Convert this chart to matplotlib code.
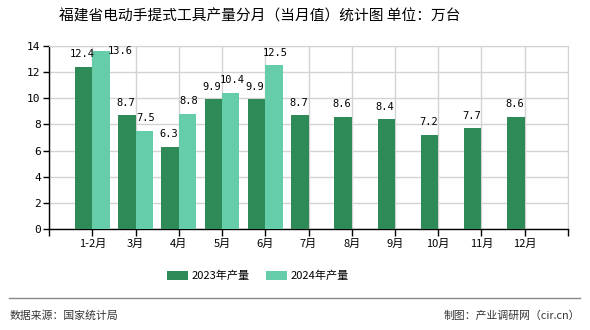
import matplotlib.pyplot as plt
import numpy as np

plt.rcParams['font.family'] = ['Noto Sans CJK SC', 'DejaVu Sans']

months = ['1-2月', '3月', '4月', '5月', '6月', '7月', '8月', '9月', '10月', '11月', '12月']
prod_2023 = [12.4, 8.7, 6.3, 9.9, 9.9, 8.7, 8.6, 8.4, 7.2, 7.7, 8.6]
prod_2024 = [13.6, 7.5, 8.8, 10.4, 12.5]
labels_2023 = ['12.4', '8.7', '6.3', '9.9', '9.9', '8.7', '8.6', '8.4', '7.2', '7.7', '8.6']
labels_2024 = ['13.6', '7.5', '8.8', '10.4', '12.5']

c23 = '#2e8b57'
c24 = '#66cdaa'
grid_c = '#d3d3d3'
num_font = ['DejaVu Sans Mono']

fig = plt.figure(figsize=(5.9, 3.3), dpi=100)
ax = fig.add_axes([0.0831, 0.305, 0.8796, 0.5565])

x = np.arange(1, len(months) + 1)
w = 0.4
b23 = ax.bar(x[:len(prod_2023)] - w / 2, prod_2023, w, color=c23, label='2023年产量', zorder=3)
b24 = ax.bar(x[:len(prod_2024)] + w / 2, prod_2024, w, color=c24, label='2024年产量', zorder=3)

ymax = 14
for rect, lab in zip(b23, labels_2023):
    ax.annotate(lab, (rect.get_x() + rect.get_width() / 2, rect.get_height()),
                xytext=(-1, 9), textcoords='offset points', ha='center', va='center',
                fontsize=7.5, family=num_font, zorder=4)
for rect, lab in zip(b24, labels_2024):
    h = rect.get_height()
    if h + 0.9 > ymax:
        # no room above, put it beside the bar
        ax.annotate(lab, (rect.get_x() + rect.get_width(), h),
                    xytext=(-1, 0), textcoords='offset points', ha='left', va='center',
                    fontsize=7.5, family=num_font, zorder=4)
    else:
        ax.annotate(lab, (rect.get_x() + rect.get_width() / 2, h),
                    xytext=(1, 9), textcoords='offset points', ha='center', va='center',
                    fontsize=7.5, family=num_font, zorder=4)

ax.set_xlim(0, len(months) + 1)
ax.set_ylim(0, ymax)
ax.set_xticks(np.arange(0, len(months) + 2))
ax.set_xticklabels([''] + months + [''], fontsize=8)
ax.set_yticks(np.arange(0, 15, 2))
ax.set_yticklabels([str(v) for v in range(0, 15, 2)], fontsize=8, family=num_font)
ax.tick_params(axis='x', length=5, width=1, pad=2)
ax.tick_params(axis='y', length=4, width=1, pad=2)
ax.grid(True, color=grid_c, linewidth=1, zorder=0)
for s in ['top', 'right']:
    ax.spines[s].set_color(grid_c)
for s in ['left', 'bottom']:
    ax.spines[s].set_color('black')
    ax.spines[s].set_linewidth(1)

fig.text(260 / 590, 1 - 17 / 330, '福建省电动手提式工具产量分月（当月值）统计图 单位：万台',
         ha='center', va='center', fontsize=10.6)

fig.legend(loc='center', bbox_to_anchor=(258 / 590, 1 - 276 / 330), ncol=2, frameon=False,
           fontsize=8, handlelength=1.9, handleheight=0.9, columnspacing=1.5, handletextpad=0.3)

fig.add_artist(plt.Line2D([9 / 590, 580 / 590], [1 - 298 / 330, 1 - 298 / 330],
                          color='#888888', linewidth=1))
fig.text(10 / 590, 1 - 316 / 330, '数据来源：国家统计局', ha='left', va='center', fontsize=7.8, color='#333333')
fig.text(580 / 590, 1 - 316 / 330, '制图：产业调研网（cir.cn）', ha='right', va='center', fontsize=7.8, color='#333333')

fig.savefig('out.png', dpi=100)
